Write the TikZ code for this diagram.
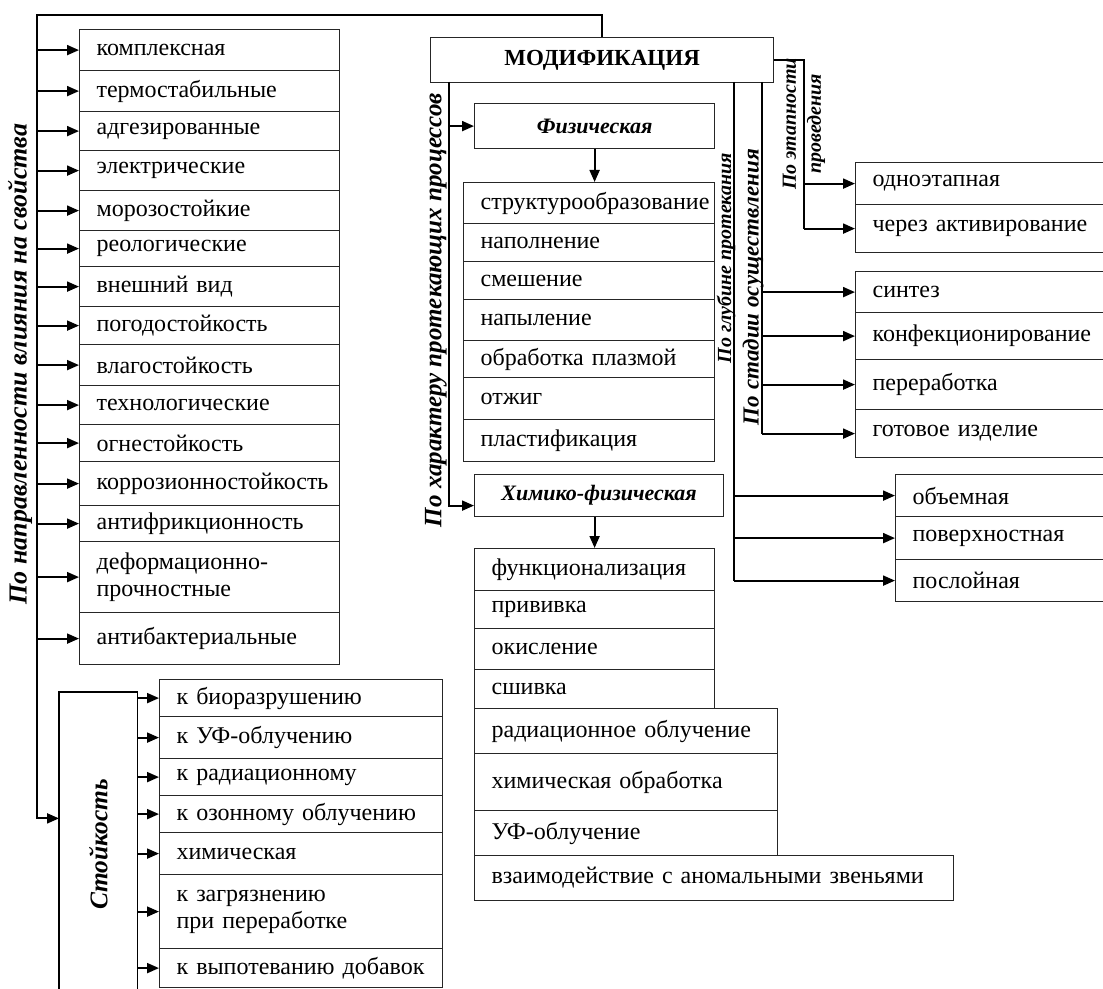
\documentclass[tikz,border=0pt]{standalone}
\usepackage{fontspec}
\setmainfont{Liberation Serif}
\usetikzlibrary{arrows.meta, positioning}

\begin{document}
\begin{tikzpicture}[x=0.5pt, y=-0.5pt,
  cell/.style={draw=black!85, line width=0.6pt, anchor=north west, inner xsep=8.5pt, inner ysep=0pt, align=left, font=\fontsize{12pt}{13.5pt}\selectfont},
  pcell/.style={cell, text width=113pt},
  scell/.style={cell, text width=124.5pt},
  fcell/.style={cell, text width=108.5pt},
  ccell/.style={cell, text width=103pt},
  wcell/.style={cell, text width=134.5pt},
  ecell/.style={cell, text width=112pt},
  gcell/.style={cell, text width=92pt},
  head/.style={draw=black!85, line width=0.6pt, anchor=north west, inner sep=0pt, font=\fontsize{11pt}{13pt}\selectfont\bfseries\itshape},
  side/.style={rotate=90, inner sep=0pt, font=\fontsize{13pt}{15pt}\selectfont\bfseries\itshape},
  sidesmall/.style={side, font=\fontsize{11.5pt}{12.5pt}\selectfont\bfseries\itshape},
  link/.style={line width=1pt},
  arr/.style={link, -{Triangle[length=6pt, width=5pt]}}]
  \useasboundingbox (0,0) rectangle (1103,989);
  % main node
  \node[head, font=\fontsize{11.5pt}{14pt}\selectfont\bfseries, minimum width=171.5pt, minimum height=22.5pt] (mod) at (430,37) {МОДИФИКАЦИЯ};
  % properties
  \node[pcell, minimum height=20.5pt] (p1)  at (79,29)  {комплексная};
  \node[pcell, minimum height=20.5pt] (p2)  at (79,70)  {термостабильные};
  \node[pcell, minimum height=19.5pt] (p3)  at (79,111) {адгезированные};
  \node[pcell, minimum height=20pt]   (p4)  at (79,150) {электрические};
  \node[pcell, minimum height=20pt]   (p5)  at (79,190) {морозостойкие};
  \node[pcell, minimum height=18pt]   (p6)  at (79,230) {реологические};
  \node[pcell, minimum height=20pt]   (p7)  at (79,266) {внешний вид};
  \node[pcell, minimum height=19pt]   (p8)  at (79,306) {погодостойкость};
  \node[pcell, minimum height=20.5pt] (p9)  at (79,344) {влагостойкость};
  \node[pcell, minimum height=19.5pt] (p10) at (79,385) {технологические};
  \node[pcell, minimum height=18.5pt] (p11) at (79,424) {огнестойкость};
  \node[pcell, minimum height=22pt]   (p12) at (79,461) {коррозионностойкость};
  \node[pcell, minimum height=18pt]   (p13) at (79,505) {антифрикционность};
  \node[pcell, minimum height=35.5pt] (p14) at (79,541) {деформационно-\\прочностные};
  \node[pcell, minimum height=26pt]   (p15) at (79,612) {антибактериальные};
  % resistance
  \node[anchor=north west, inner sep=0pt, minimum width=39pt, minimum height=148pt] (st) at (59,692) {};
  \node[side, font=\fontsize{12.7pt}{15pt}\selectfont\bfseries\itshape] (stl) at ([yshift=-2pt]st.center) {Стойкость};
  \node[scell, minimum height=18.5pt] (r1) at (159,679) {к биоразрушению};
  \node[scell, minimum height=21pt]   (r2) at (159,716) {к УФ-облучению};
  \node[scell, minimum height=18.5pt] (r3) at (159,758) {к радиационному};
  \node[scell, minimum height=18.5pt] (r4) at (159,795) {к озонному облучению};
  \node[scell, minimum height=21pt]   (r5) at (159,832) {химическая};
  \node[scell, minimum height=37pt]   (r6) at (159,874) {к загрязнению\\при переработке};
  \node[scell, minimum height=19.5pt] (r7) at (159,948) {к выпотеванию добавок};
  % physical
  \node[head, minimum width=120pt, minimum height=22.5pt] (phys) at (474,103) {Физическая};
  \node[fcell, minimum height=20.5pt] (f1) at (463,182) {структурообразование};
  \node[fcell, minimum height=19pt]   (f2) at (463,223) {наполнение};
  \node[fcell, minimum height=19pt]   (f3) at (463,261) {смешение};
  \node[fcell, minimum height=20.5pt] (f4) at (463,299) {напыление};
  \node[fcell, minimum height=18.5pt] (f5) at (463,340) {обработка плазмой};
  \node[fcell, minimum height=21pt]   (f6) at (463,377) {отжиг};
  \node[fcell, minimum height=21pt]   (f7) at (463,419) {пластификация};
  % chemical-physical
  \node[head, minimum width=124.5pt, minimum height=21pt] (chem) at (474,474) {Химико-физическая};
  \node[ccell, minimum height=21pt]   (c1) at (474,548) {функционализация};
  \node[ccell, minimum height=19pt]   (c2) at (474,590) {прививка};
  \node[ccell, minimum height=20.5pt] (c3) at (474,628) {окисление};
  \node[ccell, minimum height=19.5pt] (c4) at (474,669) {сшивка};
  \node[wcell, minimum height=22.5pt] (c5) at (474,708) {радиационное облучение};
  \node[wcell, minimum height=28.5pt] (c6) at (474,753) {химическая обработка};
  \node[wcell, minimum height=22.5pt] (c7) at (474,810) {УФ-облучение};
  \node[cell, text width=222.5pt, minimum height=22.5pt] (c8) at (474,855) {взаимодействие с аномальными звеньями};
  % stages
  \node[ecell, minimum height=21pt]   (e1) at (855,162) {одноэтапная};
  \node[ecell, minimum height=24pt]   (e2) at (855,204) {через активирование};
  \node[ecell, minimum height=20.5pt] (s1) at (855,271) {синтез};
  \node[ecell, minimum height=23.5pt] (s2) at (855,312) {конфекционирование};
  \node[ecell, minimum height=25pt]   (s3) at (855,359) {переработка};
  \node[ecell, minimum height=24pt]   (s4) at (855,409) {готовое изделие};
  \node[gcell, minimum height=21pt]   (g1) at (895,474) {объемная};
  \node[gcell, minimum height=21.5pt] (g2) at (895,516) {поверхностная};
  \node[gcell, minimum height=21pt]   (g3) at (895,559) {послойная};
  % side labels
  \node[side] (lnapr) at (20,364) {По направленности влияния на свойства};
  \node[side, font=\fontsize{12.5pt}{15pt}\selectfont\bfseries\itshape] (lhar) at (436,310) {По характеру протекающих процессов};
  \node[sidesmall, font=\fontsize{10pt}{12pt}\selectfont\bfseries\itshape] (lglu) at (726,258) {По глубине протекания};
  \node[sidesmall] (lsta) at (753,287) {По стадии осуществления};
  \node[sidesmall, font=\fontsize{10pt}{12.5pt}\selectfont\bfseries\itshape, align=center] (leta) at (804,124) {По этапности\\проведения};
  % connectors
  \draw[line width=0.6pt] (st.south west) -- (st.north west) -- (st.north east) -- (st.south east);
  \coordinate (bus) at (37,15);
  \draw[arr] (mod.north) |- (bus) |- ([yshift=11pt]st.west);
  \foreach \i in {1,...,15}
    \draw[arr] (bus |- p\i.west) -- (p\i.west);
  \foreach \i in {1,...,7}
    \draw[arr] (st.east |- r\i.west) -- (r\i.west);
  \coordinate (har) at (449,82);
  \draw[arr] (har) |- (phys.west);
  \draw[arr] (har) |- ([yshift=-5pt]chem.west);
  \draw[arr] (phys.south) -- (phys.south |- f1.north);
  \draw[arr] (chem.south -| c1.north) -- (c1.north);
  \coordinate (eta) at (804,0);
  \draw[link] (mod.east) -| (eta |- e2.west);
  \foreach \i in {1,2}
    \draw[arr] (eta |- e\i.west) -- (e\i.west);
  \coordinate (sta) at (762,82);
  \draw[link] (sta) -- (sta |- s4.west);
  \foreach \i in {1,...,4}
    \draw[arr] (sta |- s\i.west) -- (s\i.west);
  \coordinate (glu) at (734,82);
  \draw[link] (glu) -- (glu |- g3.west);
  \foreach \i in {1,2,3}
    \draw[arr] (glu |- g\i.west) -- (g\i.west);
\end{tikzpicture}
\end{document}
